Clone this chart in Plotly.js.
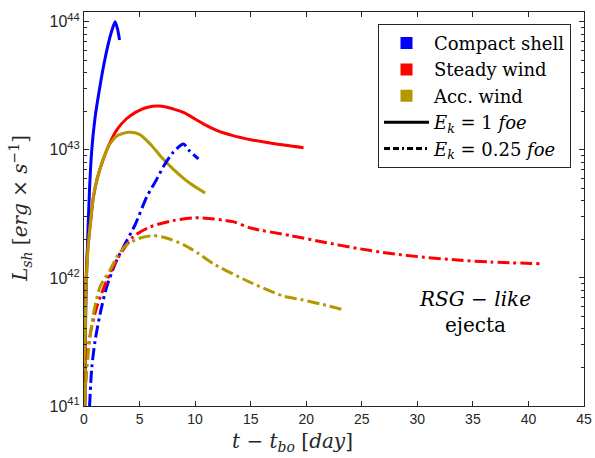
<!DOCTYPE html>
<html>
<head>
<meta charset="utf-8">
<script src="https://cdn.plot.ly/plotly-3.0.1.min.js"></script>
<style>html,body{margin:0;padding:0;background:#fff;}#chart{width:595px;height:458px;}</style>
</head>
<body>
<div id="chart"></div>
<script>
// Compact shell, E_k = 1 foe
const compactHiX = [0.08,0.12,0.2,0.3,0.5,0.7,1.0,1.4,1.8,2.2,2.5,2.8,3.0,3.2];
const compactHiY = [1.0e41,3.2e41,8.9e41,1.66e42,5.0e42,1.0e43,1.8e43,3.0e43,4.7e43,6.8e43,8.5e43,1.0e44,8.9e43,7.2e43];
// Steady wind, E_k = 1 foe
const steadyHiX = [0.05,0.08,0.17,0.33,0.6,0.85,1.2,1.7,2.3,3.0,3.8,4.6,5.65,7.0,8.0,9.0,10.0,11.0,12.0,13.4,15.0,17.0,19.76];
const steadyHiY = [1.0e41,3.2e41,8.9e41,1.66e42,2.8e42,4.3e42,6.0e42,8.3e42,1.12e43,1.45e43,1.74e43,1.95e43,2.14e43,2.19e43,2.09e43,1.95e43,1.74e43,1.55e43,1.41e43,1.29e43,1.2e43,1.12e43,1.04e43];
// Accelerated wind, E_k = 1 foe
const accHiX = [0.06,0.1,0.2,0.36,0.6,0.85,1.2,1.7,2.3,3.0,4.0,5.0,6.0,7.0,8.0,9.5,10.9];
const accHiY = [1.0e41,3.2e41,8.9e41,1.66e42,2.8e42,4.3e42,6.0e42,8.3e42,1.1e43,1.29e43,1.37e43,1.32e43,1.1e43,8.7e42,7.1e42,5.5e42,4.6e42];
// Compact shell, E_k = 0.25 foe
const compactLoX = [0.5,0.7,0.99,1.44,2.04,2.95,3.85,4.6,5.65,6.5,7.15,8.0,8.95,9.5,10.3];
const compactLoY = [1.0e41,2.0e41,3.2e41,5.2e41,8.5e41,1.38e42,1.95e42,2.6e42,4.3e42,5.8e42,7.4e42,9.5e42,1.11e43,9.8e42,8.5e42];
// Steady wind, E_k = 0.25 foe
const steadyLoX = [0.05,0.15,0.3,0.6,1.14,2.04,3.09,4.44,5.95,8.0,10.0,13.4,15.0,18.6,21.6,24.6,27.6,30.6,33.6,36.6,41.1];
const steadyLoY = [1.0e41,1.6e41,2.5e41,3.8e41,5.9e41,9.5e41,1.45e42,2.1e42,2.5e42,2.8e42,2.95e42,2.75e42,2.45e42,2.14e42,1.9e42,1.7e42,1.55e42,1.45e42,1.38e42,1.33e42,1.29e42];
// Accelerated wind, E_k = 0.25 foe
const accLoX = [0.05,0.1,0.39,0.84,1.44,2.34,3.0,3.85,5.0,6.25,7.5,8.95,10.3,11.65,14.65,17.95,19.46,21.5,23.5];
const accLoY = [1.0e41,1.26e41,2.6e41,5.2e41,8.5e41,1.15e42,1.48e42,1.82e42,2.04e42,2.14e42,2.04e42,1.82e42,1.55e42,1.29e42,9.5e41,7.2e41,6.8e41,6.2e41,5.6e41];

const xTicks = [0,5,10,15,20,25,30,35,40,45];
const yTicks = [1e41,1e42,1e43,1e44];
const yTickText = ['10<sup>41</sup>','10<sup>42</sup>','10<sup>43</sup>','10<sup>44</sup>'];
const legendNames = ['Compact shell','Steady wind','Acc. wind','<i>E</i><sub><i>k</i></sub> = 1 <i>foe</i>','<i>E</i><sub><i>k</i></sub> = 0.25 <i>foe</i>'];

const BLUE = '#0000ff', RED = '#ff0000', GOLD = '#b39800';
const DD = '12px,4px,3px,4px';
const SERIF = 'DejaVu Serif, Liberation Serif, serif';

function line(x, y, color, dash) {
  return {x: x, y: y, mode: 'lines', type: 'scatter', showlegend: false, hoverinfo: 'skip',
          line: {color: color, width: 3, dash: dash, shape: 'spline', smoothing: 0.7}};
}
function legSq(name, color) {
  return {x: [null], y: [null], mode: 'markers', type: 'scatter', name: name, showlegend: true,
          marker: {symbol: 'square', size: 12, color: color}};
}
function legLn(name, dash) {
  return {x: [null], y: [null], mode: 'lines', type: 'scatter', name: name, showlegend: true,
          line: {color: '#000', width: 3, dash: dash}};
}

const data = [
  line(compactHiX, compactHiY, BLUE, 'solid'),
  line(steadyHiX, steadyHiY, RED, 'solid'),
  line(accHiX, accHiY, GOLD, 'solid'),
  line(compactLoX, compactLoY, BLUE, DD),
  line(steadyLoX, steadyLoY, RED, DD),
  line(accLoX, accLoY, GOLD, DD),
  legSq(legendNames[0], BLUE),
  legSq(legendNames[1], RED),
  legSq(legendNames[2], GOLD),
  legLn(legendNames[3], 'solid'),
  legLn(legendNames[4], '6px,3px,6px,3px,2px,3px')
];

const axisCommon = {
  showline: true, linecolor: '#262626', linewidth: 1, mirror: 'allticks',
  ticks: 'inside', ticklen: 5, tickcolor: '#262626', showgrid: false, zeroline: false,
  tickfont: {family: 'Liberation Sans, Arial, sans-serif', size: 14, color: '#262626'}
};

const layout = {
  width: 595, height: 458,
  margin: {l: 84, r: 11, t: 12, b: 52},
  paper_bgcolor: '#fff', plot_bgcolor: '#fff',
  xaxis: Object.assign({}, axisCommon, {
    range: [0, 45], tickvals: xTicks, ticktext: xTicks.map(String)
  }),
  yaxis: Object.assign({}, axisCommon, {
    type: 'log', range: [41, 44.076], tickvals: yTicks, ticktext: yTickText,
    tickfont: {family: 'Liberation Sans, Arial, sans-serif', size: 16, color: '#262626'},
    minor: {ticks: 'inside', ticklen: 3, tickcolor: '#262626', dtick: 'D1'}
  }),
  legend: {
    x: 0.588, y: 0.97, xanchor: 'left', yanchor: 'top',
    bgcolor: '#fff', bordercolor: '#262626', borderwidth: 1,
    font: {family: SERIF, size: 18, color: '#000'},
    itemwidth: 45, tracegroupgap: 0
  },
  annotations: [
    {xref: 'paper', yref: 'paper', x: 0.416, y: -0.092, xanchor: 'center', yanchor: 'middle', showarrow: false,
     text: '<i>t</i> − <i>t</i><sub><i>bo</i></sub> [<i>day</i>]',
     font: {family: SERIF, size: 20, color: '#262626'}},
    {xref: 'paper', yref: 'paper', x: -0.128, y: 0.5, xanchor: 'center', yanchor: 'middle', showarrow: false,
     textangle: -90,
     text: '<i>L</i><sub><i>sh</i></sub> [<i>erg</i> × <i>s</i><sup>−1</sup>]',
     font: {family: SERIF, size: 20, color: '#262626'}},
    {xref: 'x', yref: 'paper', x: 35.2, y: 0.238, xanchor: 'center', yanchor: 'middle', showarrow: false,
     text: '<i>RSG</i> − <i>like</i><br>ejecta', align: 'center',
     font: {family: SERIF, size: 20, color: '#000'}}
  ]
};

Plotly.newPlot('chart', data, layout, {displayModeBar: false, staticPlot: true});
</script>
</body>
</html>
